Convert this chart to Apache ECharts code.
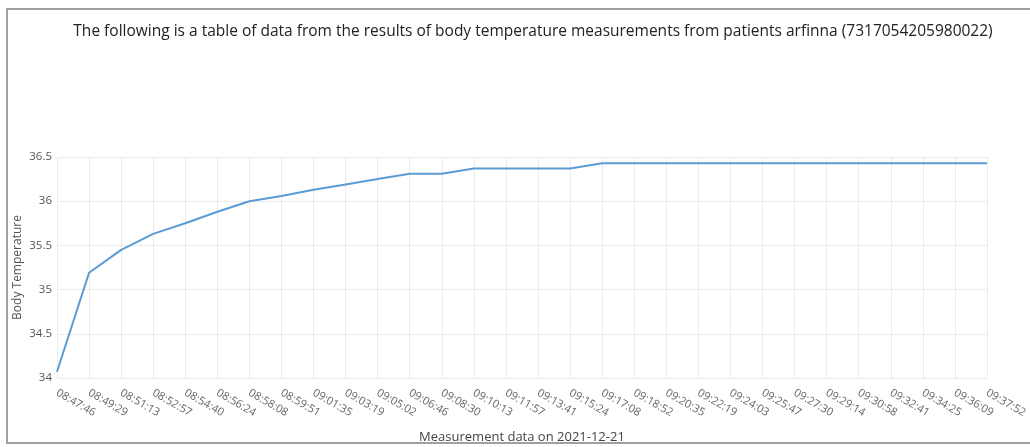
<!DOCTYPE html>
<html>
<head>
<meta charset="utf-8">
<script src="https://cdn.jsdelivr.net/npm/echarts@6/dist/echarts.min.js"></script>
<style>
html,body{margin:0;padding:0;background:#fff;}
#chart{width:1030px;height:447px;}
</style>
</head>
<body>
<div id="chart"></div>
<script>
const titleText = 'The following is a table of data from the results of body temperature measurements from patients arfinna (7317054205980022)';
const times = ['08:47:46','08:49:29','08:51:13','08:52:57','08:54:40','08:56:24','08:58:08','08:59:51','09:01:35','09:03:19',
  '09:05:02','09:06:46','09:08:30','09:10:13','09:11:57','09:13:41','09:15:24','09:17:08','09:18:52','09:20:35',
  '09:22:19','09:24:03','09:25:47','09:27:30','09:29:14','09:30:58','09:32:41','09:34:25','09:36:09','09:37:52'];
const temperatures = [34.07,35.19,35.45,35.63,35.75,35.88,36.0,36.06,36.13,36.19,
  36.25,36.31,36.31,36.37,36.37,36.37,36.37,36.43,36.43,36.43,
  36.43,36.43,36.43,36.43,36.43,36.43,36.43,36.43,36.43,36.43];
const xAxisName = 'Measurement data on 2021-12-21';
const yAxisName = 'Body Temperature';

const chart = echarts.init(document.getElementById('chart'));
chart.setOption({
  animation: false,
  textStyle: {fontFamily: 'Open Sans'},
  title: {
    text: titleText, left: 528, top: 19, textAlign: 'center',
    textStyle: {fontSize: 15.5, fontWeight: 'normal', color: '#222', fontFamily: 'Open Sans'}
  },
  graphic: [{
    type: 'polyline', silent: true,
    shape: {points: [[1034, 9], [7, 9], [7, 443], [1034, 443]]},
    style: {stroke: '#a0a0a0', lineWidth: 2, fill: null}
  }],
  grid: {left: 57, right: 42, top: 157, bottom: 69, containLabel: false},
  xAxis: {
    type: 'category', data: times, boundaryGap: false,
    name: xAxisName, nameLocation: 'middle', nameGap: 53,
    nameTextStyle: {fontSize: 13, color: '#444'},
    axisLine: {show: false}, axisTick: {show: false},
    axisLabel: {rotate: -30, fontSize: 11, color: '#666', margin: 14, interval: 0},
    splitLine: {show: true, lineStyle: {color: '#ebebeb', width: 1}}
  },
  yAxis: {
    type: 'value', min: 34, max: 36.5, interval: 0.5,
    name: yAxisName, nameLocation: 'middle', nameGap: 33, nameRotate: 90, nameMoveOverlap: false,
    nameTextStyle: {fontSize: 12, color: '#555'},
    axisLine: {show: false}, axisTick: {show: false},
    axisLabel: {fontSize: 11.5, color: '#555', margin: 5},
    splitLine: {show: true, lineStyle: {color: '#ebebeb', width: 1}}
  },
  series: [{
    type: 'line', data: temperatures, showSymbol: false, symbol: 'none',
    lineStyle: {color: '#5b9bd5', width: 2}, itemStyle: {color: '#5b9bd5'}
  }]
});
</script>
</body>
</html>
